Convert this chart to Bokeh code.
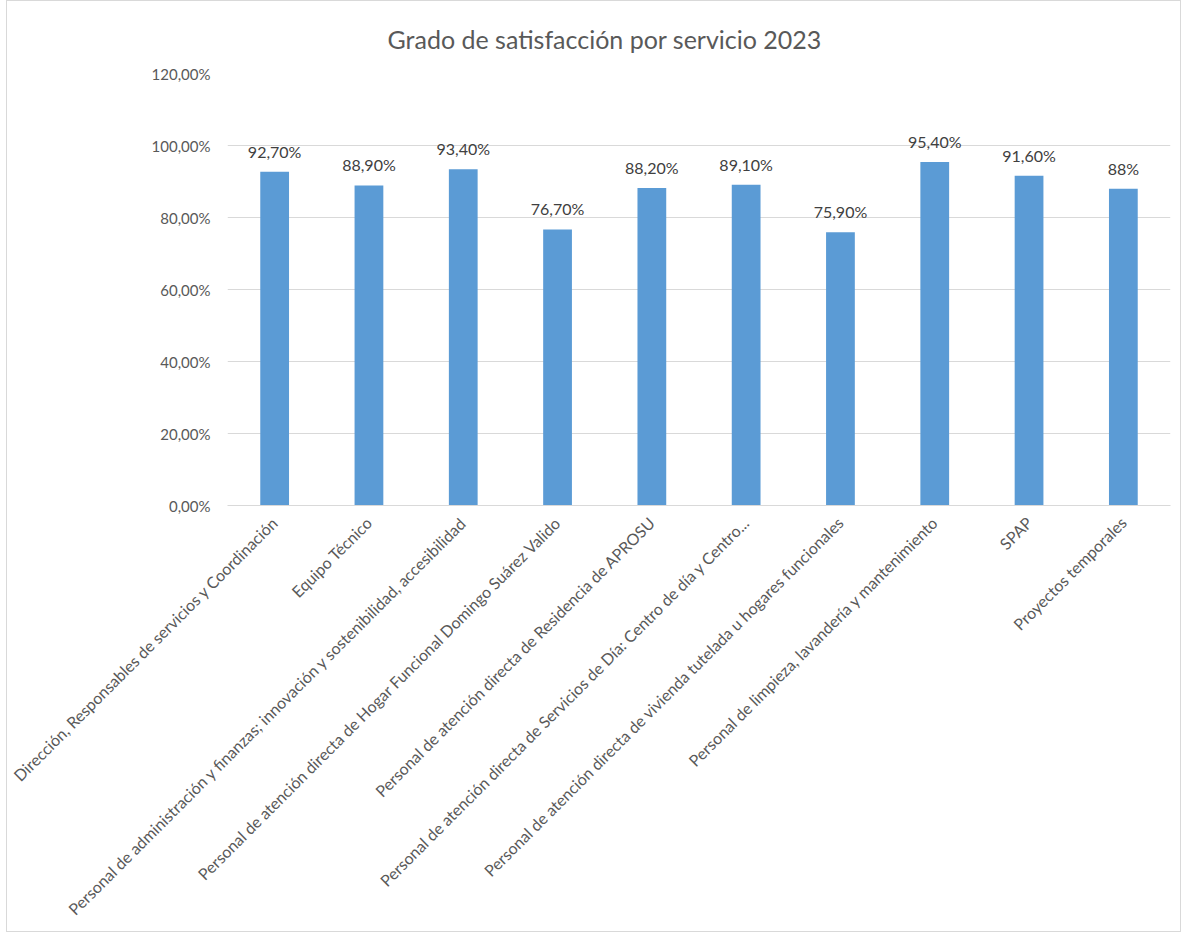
import math
from bokeh.plotting import figure
from bokeh.models import ColumnDataSource, FixedTicker, CustomJSTickFormatter, Range1d, FactorRange
from bokeh.core.properties import value
from bokeh.embed import file_html
from bokeh.resources import INLINE

title_text = "Grado de satisfacción por servicio 2023"
categories = [
    "Dirección, Responsables de servicios y Coordinación",
    "Equipo Técnico",
    "Personal de administración y finanzas; innovación y sostenibilidad, accesibilidad",
    "Personal de atención directa de Hogar Funcional Domingo Suárez Valido",
    "Personal de atención directa de Residencia de APROSU",
    "Personal de atención directa de Servicios de Día: Centro de día y Centro...",
    "Personal de atención directa de vivienda tutelada u hogares funcionales",
    "Personal de limpieza, lavandería y mantenimiento",
    "SPAP",
    "Proyectos temporales",
]
values = [0.927, 0.889, 0.934, 0.767, 0.882, 0.891, 0.759, 0.954, 0.916, 0.88]
value_labels = ["92,70%", "88,90%", "93,40%", "76,70%", "88,20%", "89,10%", "75,90%", "95,40%", "91,60%", "88%"]
y_ticks = [0, 0.2, 0.4, 0.6, 0.8, 1.0, 1.2]

FONT = "Lato"
GRAY = "#595959"

src = ColumnDataSource(dict(cat=categories, val=values, lab=value_labels))

p = figure(
    width=1175, height=932,
    x_range=FactorRange(factors=categories, range_padding=0),
    y_range=Range1d(0, 1.2),
    output_backend="svg", toolbar_location=None,
    min_border_left=220, min_border_right=12, min_border_top=72, min_border_bottom=428,
)
p.styles = {"border": "1px solid #d9d9d9", "margin": "0 0 0 6px"}

p.title.text = title_text
p.title.align = "left"
p.title.offset = 160
p.title.standoff = 40
p.title.text_font = FONT
p.title.text_font_size = "25px"
p.title.text_font_style = "normal"
p.title.text_color = GRAY

p.vbar(x="cat", top="val", width=0.305, source=src, color="#5b9bd5", line_color=None)
p.text(x="cat", y="val", text="lab", source=src, text_align="center", text_baseline="bottom",
       y_offset=-11, text_font=value(FONT), text_font_size="16px", text_color="#404040")

p.outline_line_color = None
p.xgrid.grid_line_color = None
p.ygrid.grid_line_color = "#d9d9d9"
p.ygrid.grid_line_width = 1

p.yaxis.ticker = FixedTicker(ticks=y_ticks)
p.yaxis.formatter = CustomJSTickFormatter(code="return (tick*100).toFixed(2).replace('.', ',') + '%';")
p.yaxis.axis_line_color = None
p.yaxis.major_tick_line_color = None
p.yaxis.minor_tick_line_color = None
p.yaxis.major_label_text_font = FONT
p.yaxis.major_label_text_font_size = "15px"
p.yaxis.major_label_text_color = GRAY
p.yaxis.major_label_standoff = 11

p.xaxis.axis_line_color = "#d9d9d9"
p.xaxis.major_tick_line_color = None
p.xaxis.minor_tick_line_color = None
p.xaxis.major_label_orientation = math.pi / 4
p.xaxis.major_label_text_font = FONT
p.xaxis.major_label_text_font_size = "16px"
p.xaxis.major_label_text_color = GRAY
p.xaxis.major_label_standoff = 8

open("out.html", "w").write(file_html(p, INLINE))
